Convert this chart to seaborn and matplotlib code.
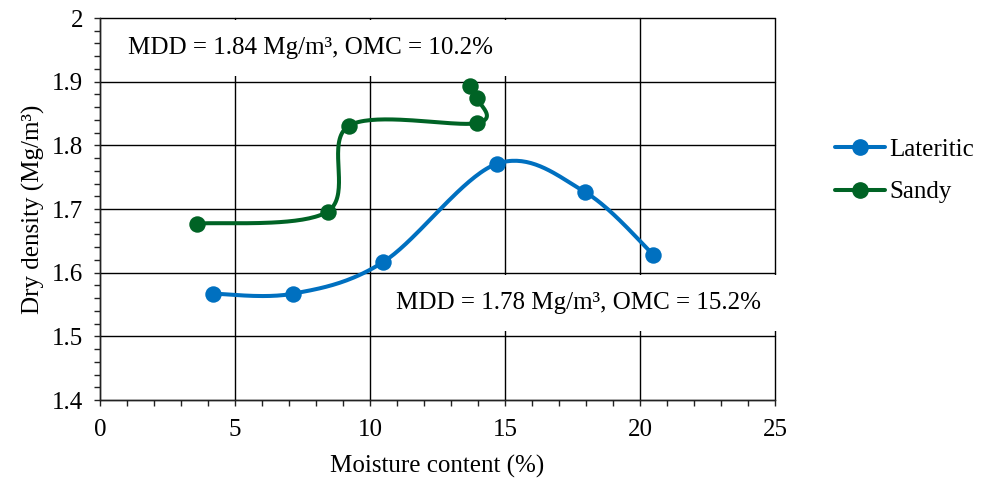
import numpy as np
import matplotlib
matplotlib.use("Agg")
import matplotlib.pyplot as plt
import seaborn as sns
from matplotlib.lines import Line2D
from matplotlib.ticker import MultipleLocator, FuncFormatter

############################################################
##### Data
############################################################

lateritic_moisture = [4.2, 7.15, 10.5, 14.7, 17.95, 20.5]
lateritic_density = [1.567, 1.567, 1.617, 1.771, 1.727, 1.628]

sandy_moisture = [3.6, 8.43, 9.23, 13.97, 13.97, 13.71]
sandy_density = [1.677, 1.696, 1.831, 1.835, 1.874, 1.893]

series_names = ["Lateritic", "Sandy"]
series_colors = ["#0070C0", "#006325"]

note_lateritic = "MDD = 1.78 Mg/m³, OMC = 15.2%"
note_sandy = "MDD = 1.84 Mg/m³, OMC = 10.2%"

############################################################
##### Helpers
############################################################


def smooth_curve(ax, x, y, n=40):
    # Excel-like smoothed line: Catmull-Rom bezier built in display space
    pts = ax.transData.transform(np.column_stack([x, y]))
    pts = np.vstack([pts[0], pts, pts[-1]])
    out = []
    for i in range(1, len(pts) - 2):
        p0, p1, p2, p3 = pts[i - 1], pts[i], pts[i + 1], pts[i + 2]
        c1 = p1 + (p2 - p0) / 6
        c2 = p2 - (p3 - p1) / 6
        t = np.linspace(0, 1, n)[:, None]
        seg = (1 - t) ** 3 * p1 + 3 * (1 - t) ** 2 * t * c1 + 3 * (1 - t) * t ** 2 * c2 + t ** 3 * p2
        out.append(seg if i == 1 else seg[1:])
    out = np.vstack(out)
    data = ax.transData.inverted().transform(out)
    return data[:, 0], data[:, 1]


############################################################
##### Plot
############################################################

sns.set_theme(style="white")
plt.rcParams["font.family"] = ["Liberation Serif", "DejaVu Serif"]
plt.rcParams["font.size"] = 18
plt.rcParams["text.color"] = "black"
plt.rcParams["axes.labelcolor"] = "black"
plt.rcParams["xtick.color"] = "black"
plt.rcParams["ytick.color"] = "black"

fig = plt.figure(figsize=(9.88, 4.79), dpi=100)
ax = fig.add_axes([0.1012, 0.1649, 0.6832, 0.7975])

ax.set_xlim(0, 25)
ax.set_ylim(1.4, 2.0)

ax.xaxis.set_major_locator(MultipleLocator(5))
ax.xaxis.set_minor_locator(MultipleLocator(1))
ax.yaxis.set_major_locator(MultipleLocator(0.1))
ax.yaxis.set_minor_locator(MultipleLocator(0.02))
ax.yaxis.set_major_formatter(FuncFormatter(lambda v, p: f"{v:g}"))

ax.grid(True, which="major", color="black", linewidth=1.0)
ax.set_axisbelow(True)
for side in ["top", "right"]:
    ax.spines[side].set_visible(False)
for side in ["left", "bottom"]:
    ax.spines[side].set_color("#222222")
    ax.spines[side].set_linewidth(1.0)

ax.tick_params(which="both", direction="out", color="#222222", width=1.0, length=4, labelsize=18)
ax.tick_params(axis="x", which="both", bottom=True)
ax.tick_params(axis="y", which="both", left=True)
ax.tick_params(axis="x", which="major", pad=10)
ax.tick_params(axis="y", which="major", pad=8)

fig.canvas.draw()
for gl in ax.get_xgridlines() + ax.get_ygridlines():
    gl.set_clip_on(False)

handles = []
for name, xs, ys, color in zip(
    series_names,
    [lateritic_moisture, sandy_moisture],
    [lateritic_density, sandy_density],
    series_colors,
):
    sx, sy = smooth_curve(ax, xs, ys)
    sns.lineplot(x=sx, y=sy, sort=False, estimator=None, color=color, linewidth=2.9, ax=ax, zorder=4)
    sns.scatterplot(x=xs, y=ys, color=color, s=140, edgecolor=color, linewidth=0, ax=ax, zorder=5)
    handles.append(Line2D([], [], color=color, linewidth=2.9, marker="o", markersize=11, label=name))

ax.set_xlim(0, 25)
ax.set_ylim(1.4, 2.0)

box = dict(boxstyle="square,pad=0.68", facecolor="white", edgecolor="none")
ax.text(7.8, 1.953, note_sandy, ha="center", va="center", fontsize=18, bbox=box, zorder=2)
ax.text(17.74, 1.552, note_lateritic, ha="center", va="center", fontsize=18, bbox=box, zorder=2)

ax.set_xlabel("Moisture content (%)", fontsize=18, labelpad=10)
ax.set_ylabel("Dry density (Mg/m³)", fontsize=18, labelpad=5)

ax.legend(
    handles=handles,
    loc="center left",
    bbox_to_anchor=(1.055, 0.6),
    frameon=False,
    fontsize=18,
    handlelength=2.0,
    labelspacing=0.8,
    handletextpad=0.2,
)

fig.savefig("out.png", dpi=100)
